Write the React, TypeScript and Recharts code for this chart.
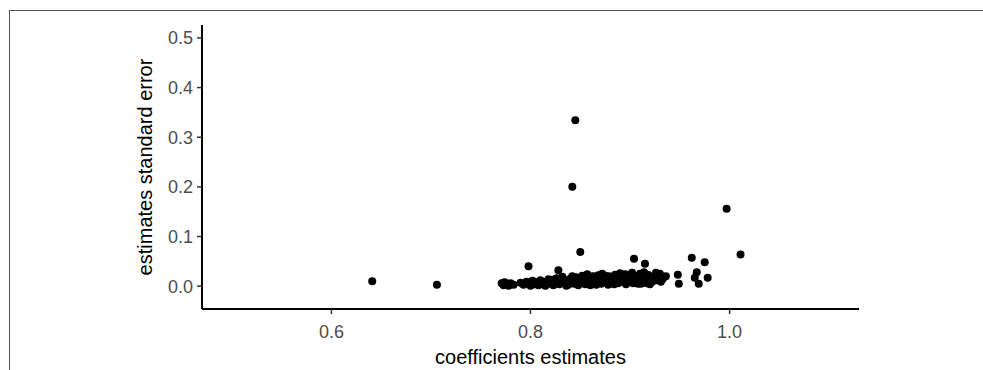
import { ScatterChart, Scatter, XAxis, YAxis, Label } from "recharts"

// coefficient estimates (x) and their standard errors (y)
const coefEstimates = [
  0.641, 0.706,
  0.771, 0.773, 0.774, 0.776, 0.778, 0.780, 0.783,
  0.790, 0.793, 0.796, 0.798, 0.800, 0.802, 0.804, 0.806, 0.808, 0.810,
  0.812, 0.814, 0.816, 0.818, 0.820, 0.821, 0.823, 0.825, 0.826, 0.828,
  0.829, 0.831, 0.832, 0.834, 0.835, 0.837, 0.838, 0.840, 0.841, 0.843,
  0.844, 0.846, 0.847, 0.849, 0.850, 0.852, 0.853, 0.855, 0.856, 0.858,
  0.859, 0.861, 0.862, 0.864, 0.865, 0.867, 0.868, 0.870, 0.871, 0.873,
  0.874, 0.876, 0.877, 0.879, 0.880, 0.882, 0.883, 0.885, 0.886, 0.888,
  0.889, 0.891, 0.892, 0.894, 0.895, 0.897, 0.898, 0.900, 0.901, 0.903,
  0.904, 0.906, 0.907, 0.909, 0.910, 0.912, 0.913, 0.915, 0.916, 0.918,
  0.919, 0.921, 0.922, 0.924, 0.925, 0.927, 0.929, 0.931, 0.933, 0.936,
  0.815, 0.822, 0.836, 0.842, 0.848, 0.857, 0.860, 0.866, 0.872, 0.878,
  0.884, 0.890, 0.896, 0.902, 0.908, 0.914, 0.920, 0.926, 0.930, 0.863,
  0.875, 0.887, 0.899, 0.911, 0.917, 0.923,
  0.798, 0.828, 0.850, 0.845, 0.842, 0.904, 0.915,
  0.948, 0.949, 0.962, 0.975, 0.967, 0.965, 0.969, 0.978, 0.997, 1.011,
]

const stdErrors = [
  0.010, 0.003,
  0.006, 0.002, 0.008, 0.004, 0.001, 0.006, 0.003,
  0.007, 0.003, 0.009, 0.005, 0.001, 0.011, 0.004, 0.008, 0.002, 0.012,
  0.006, 0.003, 0.009, 0.014, 0.005, 0.010, 0.002, 0.007, 0.016, 0.011,
  0.004, 0.008, 0.019, 0.013, 0.006, 0.010, 0.003, 0.015, 0.008, 0.012,
  0.005, 0.018, 0.010, 0.014, 0.007, 0.021, 0.011, 0.004, 0.016, 0.009,
  0.013, 0.006, 0.019, 0.011, 0.015, 0.008, 0.022, 0.012, 0.005, 0.017,
  0.010, 0.014, 0.007, 0.020, 0.012, 0.016, 0.009, 0.023, 0.013, 0.006,
  0.018, 0.011, 0.015, 0.008, 0.024, 0.013, 0.019, 0.010, 0.016, 0.006,
  0.021, 0.013, 0.018, 0.009, 0.025, 0.014, 0.020, 0.011, 0.017, 0.023,
  0.013, 0.008, 0.019, 0.015, 0.022, 0.012, 0.018, 0.009, 0.015, 0.020,
  0.001, 0.013, 0.001, 0.020, 0.002, 0.024, 0.002, 0.003, 0.025, 0.003,
  0.004, 0.026, 0.004, 0.027, 0.005, 0.028, 0.004, 0.027, 0.025, 0.020,
  0.021, 0.021, 0.022, 0.005, 0.006, 0.010,
  0.040, 0.032, 0.069, 0.334, 0.200, 0.055, 0.045,
  0.023, 0.005, 0.057, 0.048, 0.028, 0.017, 0.005, 0.017, 0.156, 0.064,
]

const xTicks = [0.6, 0.8, 1.0]
const yTicks = [0.0, 0.1, 0.2, 0.3, 0.4, 0.5]

const points = coefEstimates.map((x, i) => ({ x, y: stdErrors[i] }))

const font = "'Liberation Sans', Arial, sans-serif"

const Dot = (props: any) => <circle cx={props.cx} cy={props.cy} r={4} fill="#000" />

export default function App() {
  return (
    <div style={{ position: "absolute", left: 0, top: 0, width: 983, height: 370, background: "#fff", overflow: "hidden" }}>
      <div
        style={{
          position: "absolute",
          left: 9,
          top: 10,
          width: 1000,
          height: 400,
          borderTop: "1px solid #555",
          borderLeft: "1px solid #555",
        }}
      />
      <div style={{ position: "absolute", left: 0, top: 0 }}>
        <ScatterChart width={983} height={370} margin={{ top: 25, right: 124, bottom: 0, left: 0 }}>
          <XAxis
            type="number"
            dataKey="x"
            domain={[0.47, 1.13]}
            allowDataOverflow
            ticks={xTicks}
            tickFormatter={(v) => v.toFixed(1)}
            height={61}
            axisLine={{ stroke: "#000", strokeWidth: 2 }}
            tickLine={{ stroke: "#333", strokeWidth: 1.5 }}
            tickSize={5}
            tickMargin={11}
            tick={{ fill: "#4d4d4d", fontSize: 18, fontFamily: font }}
          >
            <Label
              content={({ viewBox }: any) => (
                <text
                  x={viewBox.x + viewBox.width / 2}
                  y={viewBox.y + viewBox.height - 6}
                  textAnchor="middle"
                  fill="#000"
                  fontSize={20}
                  fontFamily={font}
                >
                  coefficients estimates
                </text>
              )}
            />
          </XAxis>
          <YAxis
            type="number"
            dataKey="y"
            domain={[-0.046, 0.526]}
            allowDataOverflow
            ticks={yTicks}
            tickFormatter={(v) => v.toFixed(1)}
            width={202}
            axisLine={{ stroke: "#000", strokeWidth: 2 }}
            tickLine={{ stroke: "#333", strokeWidth: 1.5 }}
            tickSize={5}
            tickMargin={4}
            tick={{ fill: "#4d4d4d", fontSize: 18, fontFamily: font }}
          >
            <Label
              content={({ viewBox }: any) => {
                const cx = viewBox.x + viewBox.width - 57
                const cy = viewBox.y + viewBox.height / 2
                return (
                  <text
                    x={cx}
                    y={cy}
                    transform={`rotate(-90 ${cx} ${cy})`}
                    textAnchor="middle"
                    dominantBaseline="central"
                    fill="#000"
                    fontSize={20}
                    fontFamily={font}
                  >
                    estimates standard error
                  </text>
                )
              }}
            />
          </YAxis>
          <Scatter data={points} shape={Dot} isAnimationActive={false} />
        </ScatterChart>
      </div>
    </div>
  )
}
